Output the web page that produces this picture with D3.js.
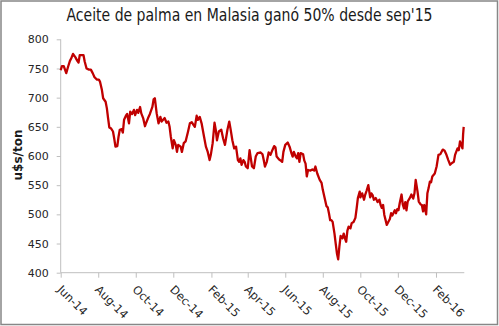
<!DOCTYPE html>
<html><head><meta charset="utf-8">
<script src="https://cdn.jsdelivr.net/npm/d3@7"></script>
<style>html,body{margin:0;padding:0;background:#fff;}svg{display:block;}</style>
</head><body>
<script>
const title = "Aceite de palma en Malasia ganó 50% desde sep'15";
const yLabel = "u$s/ton";
const yTicks = [400, 450, 500, 550, 600, 650, 700, 750, 800];
const xTickLabels = ["Jun-14","Aug-14","Oct-14","Dec-14","Feb-15","Apr-15","Jun-15","Aug-15","Oct-15","Dec-15","Feb-16"];
const xTickDates = ["2014-06-01","2014-08-01","2014-10-01","2014-12-01","2015-02-01","2015-04-01","2015-06-01","2015-08-01","2015-10-01","2015-12-01","2016-02-01"];
const dates = ["2014-06-01","2014-06-03","2014-06-06","2014-06-10","2014-06-13","2014-06-16","2014-06-18","2014-06-21","2014-06-25","2014-06-28","2014-06-30","2014-07-02","2014-07-06","2014-07-08","2014-07-10","2014-07-13","2014-07-17","2014-07-20","2014-07-23","2014-07-26","2014-07-30","2014-08-02","2014-08-04","2014-08-07","2014-08-09","2014-08-13","2014-08-15","2014-08-17","2014-08-19","2014-08-22","2014-08-25","2014-08-27","2014-08-29","2014-09-01","2014-09-03","2014-09-05","2014-09-08","2014-09-10","2014-09-12","2014-09-15","2014-09-17","2014-09-20","2014-09-22","2014-09-25","2014-09-28","2014-09-30","2014-10-03","2014-10-05","2014-10-08","2014-10-10","2014-10-13","2014-10-16","2014-10-18","2014-10-21","2014-10-24","2014-10-28","2014-10-30","2014-11-01","2014-11-04","2014-11-07","2014-11-10","2014-11-12","2014-11-17","2014-11-20","2014-11-23","2014-11-25","2014-11-27","2014-11-30","2014-12-02","2014-12-05","2014-12-07","2014-12-09","2014-12-13","2014-12-15","2014-12-18","2014-12-21","2014-12-25","2014-12-28","2014-12-31","2015-01-03","2015-01-05","2015-01-08","2015-01-10","2015-01-13","2015-01-16","2015-01-20","2015-01-23","2015-01-26","2015-01-29","2015-01-31","2015-02-03","2015-02-06","2015-02-08","2015-02-10","2015-02-13","2015-02-17","2015-02-20","2015-02-23","2015-02-27","2015-03-02","2015-03-04","2015-03-07","2015-03-10","2015-03-13","2015-03-16","2015-03-18","2015-03-20","2015-03-22","2015-03-25","2015-03-27","2015-03-29","2015-04-01","2015-04-04","2015-04-08","2015-04-11","2015-04-14","2015-04-17","2015-04-22","2015-04-25","2015-04-27","2015-04-29","2015-05-02","2015-05-05","2015-05-08","2015-05-11","2015-05-14","2015-05-16","2015-05-18","2015-05-22","2015-05-25","2015-05-27","2015-05-29","2015-06-01","2015-06-05","2015-06-08","2015-06-11","2015-06-13","2015-06-15","2015-06-18","2015-06-20","2015-06-22","2015-06-24","2015-06-26","2015-06-30","2015-07-02","2015-07-04","2015-07-06","2015-07-08","2015-07-12","2015-07-15","2015-07-18","2015-07-20","2015-07-23","2015-07-27","2015-07-30","2015-08-01","2015-08-04","2015-08-07","2015-08-09","2015-08-11","2015-08-13","2015-08-15","2015-08-17","2015-08-20","2015-08-22","2015-08-24","2015-08-26","2015-08-28","2015-08-30","2015-09-02","2015-09-04","2015-09-06","2015-09-08","2015-09-10","2015-09-12","2015-09-15","2015-09-17","2015-09-20","2015-09-23","2015-09-25","2015-09-27","2015-09-30","2015-10-01","2015-10-04","2015-10-07","2015-10-09","2015-10-11","2015-10-14","2015-10-17","2015-10-19","2015-10-21","2015-10-23","2015-10-26","2015-10-29","2015-11-01","2015-11-03","2015-11-05","2015-11-07","2015-11-09","2015-11-13","2015-11-15","2015-11-18","2015-11-20","2015-11-22","2015-11-26","2015-11-28","2015-11-30","2015-12-02","2015-12-04","2015-12-07","2015-12-09","2015-12-11","2015-12-13","2015-12-15","2015-12-17","2015-12-21","2015-12-23","2015-12-26","2015-12-28","2015-12-30","2016-01-02","2016-01-04","2016-01-07","2016-01-09","2016-01-11","2016-01-13","2016-01-16","2016-01-18","2016-01-20","2016-01-22","2016-01-24","2016-01-26","2016-01-30","2016-02-02","2016-02-05","2016-02-08","2016-02-12","2016-02-15","2016-02-18","2016-02-21","2016-02-24","2016-02-27","2016-03-01","2016-03-03","2016-03-07","2016-03-09","2016-03-11","2016-03-13","2016-03-15","2016-03-16","2016-03-17"];
const prices = [747,754,754,742,753,763,767,775,769,763,760,773,773,773,762,750,748,748,742,735,731,731,727,713,699,693,682,665,649,647,642,630,616,617,633,645,646,640,662,669,672,656,676,672,679,670,679,674,684,673,665,651,657,665,672,684,697,699,673,656,667,659,665,657,659,650,633,613,627,619,607,619,616,607,622,625,642,656,658,653,650,669,662,667,656,633,616,607,593,602,622,657,645,627,642,645,630,619,645,659,647,627,613,616,593,590,596,585,593,590,582,579,610,582,579,599,605,606,603,593,582,590,606,602,610,617,615,599,594,592,590,607,619,623,616,605,599,607,599,596,605,590,605,603,592,587,565,576,575,577,575,582,570,559,554,542,528,514,512,502,490,490,487,467,450,433,423,445,463,459,467,459,453,472,479,476,485,487,494,510,528,539,529,536,525,534,540,550,529,536,533,525,528,521,525,516,511,516,499,482,486,492,502,498,507,502,509,507,519,534,517,510,521,507,522,529,534,527,536,559,539,522,517,516,505,516,500,536,545,556,555,565,570,582,602,603,611,609,602,593,585,588,590,602,613,610,625,619,613,636,650];

const W = 499, H = 326;
const parse = d3.timeParse("%Y-%m-%d");
const data = dates.map((d, i) => ({date: parse(d), value: prices[i]}));

const svg = d3.select("body").append("svg").attr("width", W).attr("height", H);

svg.append("rect").attr("x", 1).attr("y", 1).attr("width", 496.5).attr("height", 323.5)
  .attr("fill", "#fff").attr("stroke", "#878787").attr("stroke-width", 1.5);

const x = d3.scaleTime().domain([parse("2014-06-01"), parse("2016-03-18")]).range([60.7, 464.3]);
const y = d3.scaleLinear().domain([400, 800]).range([272.7, 39.3]);

// Y axis
const yAxis = d3.axisLeft(y).tickValues(yTicks).tickSize(4).tickPadding(8).tickFormat(d3.format("d"));
const gy = svg.append("g").attr("transform", "translate(60.7,0)").call(yAxis);
gy.select(".domain").attr("stroke", "#bfbfbf").attr("d", `M-0,${y(800)}V${y(400)}`);
gy.selectAll(".tick line").attr("stroke", "#bfbfbf");
gy.selectAll(".tick text").attr("font-family", "'DejaVu Sans', Verdana, sans-serif")
  .attr("font-size", "11px").attr("fill", "#262626");

// X axis
const xAxis = d3.axisBottom(x).tickValues(xTickDates.map(parse)).tickSize(5)
  .tickFormat((d, i) => xTickLabels[i]);
const gx = svg.append("g").attr("transform", "translate(0,272.7)").call(xAxis);
gx.select(".domain").attr("stroke", "#bfbfbf").attr("d", `M60.7,0H464.3`);
gx.selectAll(".tick line").attr("stroke", "#bfbfbf");
gx.selectAll(".tick text")
  .attr("font-family", "'DejaVu Sans', Verdana, sans-serif")
  .attr("font-size", "11.5px").attr("fill", "#262626")
  .attr("text-anchor", "start")
  .attr("y", 0).attr("dy", 0)
  .attr("transform", "translate(-4.5,17.5) rotate(45)");

// Line
const line = d3.line().x(d => x(d.date)).y(d => y(d.value));
svg.append("path").datum(data).attr("d", line)
  .attr("fill", "none").attr("stroke", "#c00000").attr("stroke-width", 2.3)
  .attr("stroke-linejoin", "round");

// Title
svg.append("text").attr("x", 66.5).attr("y", 21)
  .attr("font-family", "'Liberation Sans Narrow', 'DejaVu Sans Condensed', sans-serif")
  .attr("font-size", "17px").attr("fill", "#1a1a1a")
  .attr("textLength", 366).attr("lengthAdjust", "spacingAndGlyphs")
  .text(title);

// Y label
svg.append("text").attr("transform", "translate(22,155) rotate(-90)")
  .attr("text-anchor", "middle")
  .attr("font-family", "'DejaVu Sans', Verdana, sans-serif")
  .attr("font-size", "12px").attr("font-weight", "bold").attr("fill", "#1a1a1a")
  .text(yLabel);
</script>
</body></html>
